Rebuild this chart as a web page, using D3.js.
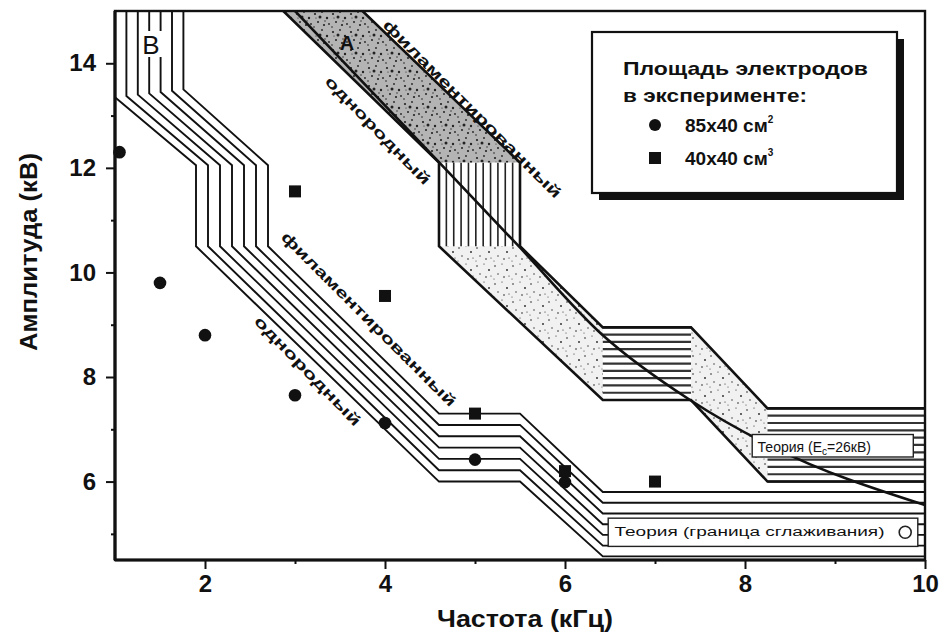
<!DOCTYPE html>
<html>
<head>
<meta charset="utf-8">
<script src="https://cdn.jsdelivr.net/npm/d3@7"></script>
<style>
  body { margin: 0; background: #fff; }
  svg { display: block; }
  text { font-family: "Liberation Sans", Arial, sans-serif; font-weight: bold; fill: #111; }
</style>
</head>
<body>
<script>
var svgWidth = 944;
var svgHeight = 633;

var margin = { top: 11, right: 19, bottom: 73, left: 115 };
var width = svgWidth - margin.left - margin.right;
var height = svgHeight - margin.top - margin.bottom;

// ---- data ----
// experiment points, electrode area 85x40 cm2 (circles)
var circleFreq = [1.05, 1.5, 2, 3, 4, 5, 6];
var circleAmp = [12.3, 9.8, 8.8, 7.65, 7.12, 6.42, 5.99];
// electrode area 40x40 cm2 (squares)
var squareFreq = [3, 4, 5, 6, 7];
var squareAmp = [11.55, 9.55, 7.3, 6.2, 6.0];

// band B (theory, smoothing boundary): lower and upper edges
var bandBLower = [[1.0, 15], [1.0, 13.35], [1.9, 12.05], [1.9, 10.5], [4.6, 6.0], [5.5, 6.0], [6.42, 4.57], [10, 4.57]];
var bandBUpper = [[1.76, 15], [1.76, 13.5], [2.7, 12.05], [2.7, 10.5], [4.6, 7.3], [5.5, 7.3], [6.42, 5.8], [10, 5.8]];

// band A (theory, Ec = 26 kV): lower and upper edges
var bandALower = [[2.87, 15], [4.6, 12.1], [4.6, 10.5], [6.42, 7.56], [7.4, 7.56], [8.25, 6.0], [10, 6.0]];
var bandAUpper = [[3.75, 15], [5.5, 12.1], [5.5, 10.5], [6.42, 8.95], [7.4, 8.95], [8.25, 7.4], [10, 7.4]];

// curve running through band A
var theoryFreq = [3.0, 4.61, 5.47, 6.42, 7.39, 8.31, 10];
var theoryAmp = [15, 12.09, 10.53, 8.8, 7.56, 6.66, 5.55];

var xMajor = [2, 4, 6, 8, 10];
var xMinor = [3, 5, 7, 9];
var yMajor = [6, 8, 10, 12, 14];
var yMinor = [5, 7, 9, 11, 13];

var legendLabels = ["85x40 см", "40x40 см"];

// ---- svg ----
var svg = d3.select("body")
  .append("svg")
  .attr("width", svgWidth)
  .attr("height", svgHeight);

var defs = svg.append("defs");

var x = d3.scaleLinear().domain([1, 10]).range([0, width]);
var y = d3.scaleLinear().domain([4.5, 15]).range([height, 0]);

defs.append("clipPath").attr("id", "plotClip")
  .append("rect").attr("width", width).attr("height", height);

// stipple textures for the band A
function stipple(id, bg, dots) {
  var p = defs.append("pattern").attr("id", id)
    .attr("patternUnits", "userSpaceOnUse").attr("width", 18).attr("height", 18);
  p.append("rect").attr("width", 18).attr("height", 18).attr("fill", bg);
  dots.forEach(function(d) {
    p.append("circle").attr("cx", d[0]).attr("cy", d[1]).attr("r", d[2]).attr("fill", "#222");
  });
}
stipple("stLight", "#f1f1f1", [[2, 3, 0.8], [9, 1, 0.6], [14, 7, 0.9], [5, 11, 0.7], [11, 14, 0.8], [1, 16, 0.5], [16, 13, 0.6]]);
stipple("stDark", "#b4b4b4", [[2, 3, 1.1], [9, 1, 0.9], [14, 7, 1.2], [5, 11, 1], [11, 14, 1.1], [1, 16, 0.8], [16, 13, 0.9],
  [7, 6, 1.5], [12, 10, 0.7], [3, 7, 0.6]]);

var chartGroup = svg.append("g")
  .attr("transform", `translate(${margin.left}, ${margin.top})`);

var plot = chartGroup.append("g").attr("clip-path", "url(#plotClip)");

var line = d3.line().x(d => x(d[0])).y(d => y(d[1]));

// ---- band A ----
var bandAPoly = bandALower.concat(bandAUpper.slice().reverse());
plot.append("path")
  .attr("d", line(bandAPoly) + "Z")
  .attr("fill", "url(#stLight)");

// darker top part
var topPart = bandALower.slice(0, 2).concat(bandAUpper.slice(0, 2).reverse());
plot.append("path")
  .attr("d", line(topPart) + "Z")
  .attr("fill", "url(#stDark)");

// vertical hatching in the vertical section
var vx0 = x(bandALower[1][0]), vx1 = x(bandAUpper[1][0]);
var vy0 = y(bandALower[1][1]), vy1 = y(bandALower[2][1]);
plot.append("rect").attr("x", vx0).attr("y", vy0).attr("width", vx1 - vx0).attr("height", vy1 - vy0).attr("fill", "#fff");
plot.selectAll(".vhatch")
  .data(d3.range(vx0, vx1 + 0.1, (vx1 - vx0) / 11))
  .enter().append("line")
  .attr("x1", d => d).attr("x2", d => d)
  .attr("y1", vy0).attr("y2", vy1)
  .attr("stroke", "#222").attr("stroke-width", 1.6);

// horizontal hatching in the flat sections
function hHatch(lo, hi, i) {
  var hx0 = x(lo[i][0]), hx1 = x(lo[i + 1][0]);
  var hy0 = y(hi[i][1]), hy1 = y(lo[i][1]);
  plot.append("rect").attr("x", hx0).attr("y", hy0).attr("width", hx1 - hx0).attr("height", hy1 - hy0).attr("fill", "#fff");
  plot.append("g").selectAll("line")
    .data(d3.range(hy0, hy1 + 0.1, (hy1 - hy0) / 10))
    .enter().append("line")
    .attr("x1", hx0).attr("x2", hx1)
    .attr("y1", d => d).attr("y2", d => d)
    .attr("stroke", "#333").attr("stroke-width", 2.2);
}
hHatch(bandALower, bandAUpper, 3);
hHatch(bandALower, bandAUpper, 5);

plot.append("path").attr("d", line(bandALower)).attr("fill", "none").attr("stroke", "#111").attr("stroke-width", 2.6);
plot.append("path").attr("d", line(bandAUpper)).attr("fill", "none").attr("stroke", "#111").attr("stroke-width", 2.6);

// curve through band A
plot.append("path")
  .datum(theoryFreq.map((f, i) => [f, theoryAmp[i]]))
  .attr("d", d3.line().x(d => x(d[0])).y(d => y(d[1])).curve(d3.curveMonotoneX))
  .attr("fill", "none").attr("stroke", "#111").attr("stroke-width", 2.6);

// ---- band B: seven parallel lines ----
var nLines = 7;
d3.range(nLines).forEach(function(k) {
  var t = k / (nLines - 1);
  var pts = bandBLower.map(function(p, i) {
    var q = bandBUpper[i];
    return [p[0] + (q[0] - p[0]) * t, p[1] + (q[1] - p[1]) * t];
  });
  plot.append("path").attr("d", line(pts))
    .attr("fill", "none").attr("stroke", "#111").attr("stroke-width", 1.9);
});

// ---- annotation boxes ----
function noteBox(f0, a0, f1, a1) {
  plot.append("rect")
    .attr("x", x(f0)).attr("y", y(a0))
    .attr("width", x(f1) - x(f0)).attr("height", y(a1) - y(a0))
    .attr("fill", "#fff").attr("stroke", "#222").attr("stroke-width", 1.4);
}
noteBox(8.08, 6.9, 9.87, 6.47);
var t1 = plot.append("text")
  .attr("x", x(8.14)).attr("y", y(6.56))
  .style("font-size", "14px").style("font-weight", "normal");
t1.append("tspan").text("Теория (E");
t1.append("tspan").attr("dy", 3).style("font-size", "10px").text("c");
t1.append("tspan").attr("dy", -3).text("=26кВ)");

noteBox(6.48, 5.3, 9.92, 4.76);
plot.append("text")
  .attr("x", x(6.55)).attr("y", y(4.95))
  .attr("textLength", 270).attr("lengthAdjust", "spacingAndGlyphs")
  .style("font-size", "12px").style("font-weight", "normal")
  .text("Теория (граница сглаживания)");
plot.append("circle")
  .attr("cx", x(9.78)).attr("cy", y(5.03)).attr("r", 6)
  .attr("fill", "#fff").attr("stroke", "#222").attr("stroke-width", 1.6);

// ---- band labels along the diagonals ----
function slantLabel(f, a, ang, len, txt) {
  chartGroup.append("text")
    .attr("transform", `translate(${x(f)}, ${y(a)}) rotate(${ang})`)
    .attr("text-anchor", "middle")
    .attr("dominant-baseline", "middle")
    .attr("textLength", len).attr("lengthAdjust", "spacingAndGlyphs")
    .style("font-size", "15px")
    .text(txt);
}
slantLabel(4.96, 13.11, 45, 245, "филаментированный");
slantLabel(3.91, 12.7, 46, 144, "однородный");
slantLabel(3.81, 9.09, 45, 240, "филаментированный");
slantLabel(3.13, 8.1, 46, 146, "однородный");

// A / B marks
chartGroup.append("rect").attr("x", 24).attr("y", 20).attr("width", 24).attr("height", 26).attr("fill", "#fff");
chartGroup.append("text").attr("x", 36).attr("y", 43).attr("text-anchor", "middle")
  .style("font-size", "26px").style("font-weight", "normal").text("B");
chartGroup.append("text").attr("x", 232).attr("y", 39).attr("text-anchor", "middle")
  .style("font-size", "20px").text("A");

// ---- experiment points ----
chartGroup.selectAll(".dot")
  .data(circleFreq.map((f, i) => [f, circleAmp[i]]))
  .enter().append("circle")
  .attr("cx", d => x(d[0])).attr("cy", d => y(d[1])).attr("r", 6.3)
  .attr("fill", "#111");

chartGroup.selectAll(".sq")
  .data(squareFreq.map((f, i) => [f, squareAmp[i]]))
  .enter().append("rect")
  .attr("x", d => x(d[0]) - 6).attr("y", d => y(d[1]) - 6)
  .attr("width", 12).attr("height", 12)
  .attr("fill", "#111");

// ---- frame and axes ----
chartGroup.append("rect")
  .attr("width", width).attr("height", height)
  .attr("fill", "none").attr("stroke", "#111").attr("stroke-width", 2.4);
chartGroup.append("line").attr("x1", 0).attr("x2", 0).attr("y1", 0).attr("y2", height)
  .attr("stroke", "#111").attr("stroke-width", 3.2);
chartGroup.append("line").attr("x1", 0).attr("x2", width).attr("y1", height).attr("y2", height)
  .attr("stroke", "#111").attr("stroke-width", 3.2);

chartGroup.append("g")
  .attr("transform", `translate(0, ${height})`)
  .call(d3.axisBottom(x).tickValues(xMajor).tickSize(9).tickPadding(6).tickFormat(d3.format("d")));
chartGroup.append("g")
  .attr("transform", `translate(0, ${height})`)
  .call(d3.axisBottom(x).tickValues(xMinor).tickSize(4).tickFormat(""));

chartGroup.append("g")
  .call(d3.axisLeft(y).tickValues(yMajor).tickSize(9).tickPadding(10).tickFormat(d3.format("d")));
chartGroup.append("g")
  .call(d3.axisLeft(y).tickValues(yMinor).tickSize(4).tickFormat(""));

chartGroup.selectAll(".domain").remove();
chartGroup.selectAll(".tick line").attr("stroke", "#111").attr("stroke-width", 2);
chartGroup.selectAll(".tick text")
  .style("font-size", "24px").style("font-family", "'Liberation Sans Narrow', 'Liberation Sans', Arial, sans-serif")
  .attr("fill", "#111");

// axis titles
svg.append("text")
  .attr("x", 525).attr("y", 627)
  .attr("text-anchor", "middle")
  .attr("textLength", 176).attr("lengthAdjust", "spacingAndGlyphs")
  .style("font-size", "24px")
  .text("Частота (кГц)");

svg.append("text")
  .attr("transform", "translate(37, 252) rotate(-90)")
  .attr("text-anchor", "middle")
  .attr("textLength", 198).attr("lengthAdjust", "spacingAndGlyphs")
  .style("font-size", "24px")
  .text("Амплитуда (кВ)");

// ---- legend ----
var legend = svg.append("g").attr("transform", "translate(592, 32)");
legend.append("rect").attr("x", 7).attr("y", 7).attr("width", 305).attr("height", 161).attr("fill", "#111");
legend.append("rect").attr("width", 305).attr("height", 161)
  .attr("fill", "#fff").attr("stroke", "#111").attr("stroke-width", 2.2);
legend.append("text").attr("x", 31).attr("y", 43)
  .attr("textLength", 245).attr("lengthAdjust", "spacingAndGlyphs")
  .style("font-size", "19px").text("Площадь электродов");
legend.append("text").attr("x", 31).attr("y", 70)
  .attr("textLength", 184).attr("lengthAdjust", "spacingAndGlyphs")
  .style("font-size", "19px").text("в эксперименте:");
legend.append("circle").attr("cx", 63).attr("cy", 93).attr("r", 6).attr("fill", "#111");
legend.append("rect").attr("x", 57).attr("y", 120).attr("width", 12).attr("height", 12).attr("fill", "#111");
legendLabels.forEach(function(lab, i) {
  var t = legend.append("text").attr("x", 93).attr("y", 100 + i * 33).style("font-size", "19px");
  t.append("tspan").text(lab);
  t.append("tspan").attr("dy", -9).style("font-size", "10px").text(i === 0 ? "2" : "3");
});
</script>
</body>
</html>
